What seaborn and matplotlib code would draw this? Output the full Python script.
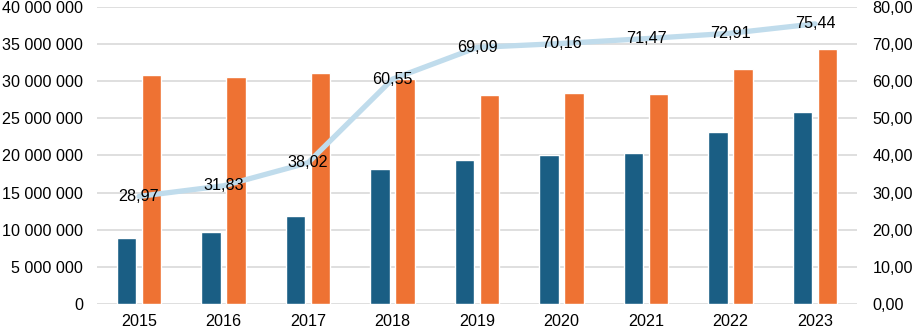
import numpy as np
import pandas as pd
import seaborn as sns
import matplotlib.pyplot as plt
from matplotlib.ticker import FuncFormatter

# данные
years = ['2015', '2016', '2017', '2018', '2019', '2020', '2021', '2022', '2023']
series_blue = [8.9e6, 9.75e6, 11.85e6, 18.2e6, 19.4e6, 20.0e6, 20.3e6, 23.1e6, 25.9e6]
series_orange = [30.8e6, 30.6e6, 31.1e6, 30.3e6, 28.2e6, 28.4e6, 28.3e6, 31.7e6, 34.4e6]
line_values = [28.97, 31.83, 38.02, 60.55, 69.09, 70.16, 71.47, 72.91, 75.44]

sns.set_theme(style='white')
plt.rcParams['font.family'] = ['Liberation Sans', 'DejaVu Sans']
FS = 11.6

df = pd.DataFrame({
    'year': years * 2,
    'value': series_blue + series_orange,
    'series': ['blue'] * len(years) + ['orange'] * len(years),
})

fig = plt.figure(figsize=(9.13, 3.3), dpi=100)
ax = fig.add_axes([0.106, 0.079, 0.833, 0.900])

sns.barplot(data=df, x='year', y='value', hue='series',
            palette={'blue': '#1A5E84', 'orange': '#EE7233'},
            width=0.59, gap=0.22, ax=ax, legend=False, saturation=1)

ax.set_ylim(0, 40e6)
ax.set_yticks(np.arange(0, 40e6 + 1, 5e6))
ax.yaxis.set_major_formatter(FuncFormatter(lambda v, p: f'{int(v):,}'.replace(',', ' ')))
ax.set_xlim(-0.5, len(years) - 0.5)
ax.grid(axis='y', color='#D9D9D9', linewidth=1.2)
ax.set_axisbelow(True)
for s in ax.spines.values():
    s.set_visible(False)
ax.set_xlabel('')
ax.set_ylabel('')
ax.tick_params(axis='y', length=0, pad=10, labelsize=FS, colors='#000000')
ax.tick_params(axis='x', length=0, pad=7, labelsize=FS, colors='#000000')

ax2 = ax.twinx()
x_pos = np.arange(len(years))
sns.lineplot(x=x_pos, y=line_values, ax=ax2, color='#C0DCEC', linewidth=3.8)
ax2.set_ylim(0, 80)
ax2.set_yticks(np.arange(0, 81, 10))
ax2.yaxis.set_major_formatter(FuncFormatter(lambda v, p: f'{v:.2f}'.replace('.', ',')))
ax2.tick_params(axis='y', length=0, pad=11, labelsize=FS, colors='#000000')
ax2.grid(False)
for s in ax2.spines.values():
    s.set_visible(False)
ax2.set_xlim(-0.5, len(years) - 0.5)

for xp, v in zip(x_pos, line_values):
    ax2.text(xp, v, f'{v:.2f}'.replace('.', ','), ha='center', va='center',
             fontsize=FS, color='#000000')

fig.savefig('out.png', dpi=100)
